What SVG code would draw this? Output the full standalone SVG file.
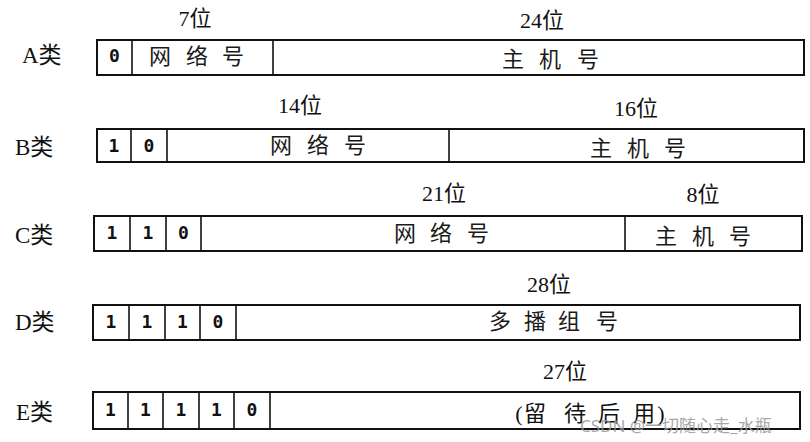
<svg xmlns="http://www.w3.org/2000/svg" width="810" height="442" viewBox="0 0 810 442">
<style>
  .box { fill: #fff; stroke: #111; stroke-width: 2; }
  .div { stroke: #111; stroke-width: 1.6; }
  .lbl { font-family: "Liberation Serif", "Noto Sans CJK SC", serif; font-size: 23px; fill: #111; }
  .bits { font-family: "Liberation Serif", "Noto Sans CJK SC", serif; font-size: 22px; fill: #111; text-anchor: middle; }
  .cn { font-family: "Noto Sans CJK SC", sans-serif; font-size: 22px; font-weight: 400; fill: #1a1a1a; text-anchor: middle; }
  .dg { font-family: "DejaVu Sans Mono", monospace; font-size: 18px; font-weight: bold; fill: #111; text-anchor: middle; }
  .wm { font-family: "Noto Sans", "Noto Sans CJK SC", sans-serif; font-size: 17px; fill: #9a9a9a; opacity: 0.85; }
</style>

<g id="classA">
  <text class="lbl" x="22" y="63">A类</text>
  <text class="bits" x="195" y="26">7位</text>
  <text class="bits" x="542" y="28">24位</text>
  <rect class="box" x="97" y="40" width="707" height="35"/>
  <line class="div" x1="132" y1="40" x2="132" y2="75"/>
  <line class="div" x1="273" y1="40" x2="273" y2="75"/>
  <text class="dg" x="114.5" y="62">0</text>
  <text class="cn" x="160 197 233" y="64">网络号</text>
  <text class="cn" x="513 550 588" y="67">主机号</text>
</g>

<g id="classB">
  <text class="lbl" x="15" y="155">B类</text>
  <text class="bits" x="300" y="113">14位</text>
  <text class="bits" x="636" y="116">16位</text>
  <rect class="box" x="97" y="129" width="707" height="33"/>
  <line class="div" x1="131" y1="129" x2="131" y2="162"/>
  <line class="div" x1="167" y1="129" x2="167" y2="162"/>
  <line class="div" x1="449" y1="129" x2="449" y2="162"/>
  <text class="dg" x="114" y="152">1</text>
  <text class="dg" x="149" y="152">0</text>
  <text class="cn" x="281 318 355" y="153">网络号</text>
  <text class="cn" x="601 638 675" y="156">主机号</text>
</g>

<g id="classC">
  <text class="lbl" x="15" y="243">C类</text>
  <text class="bits" x="444" y="201">21位</text>
  <text class="bits" x="703" y="202">8位</text>
  <rect class="box" x="94" y="216" width="708" height="35"/>
  <line class="div" x1="130" y1="216" x2="130" y2="251"/>
  <line class="div" x1="166" y1="216" x2="166" y2="251"/>
  <line class="div" x1="201" y1="216" x2="201" y2="251"/>
  <line class="div" x1="625" y1="216" x2="625" y2="251"/>
  <text class="dg" x="112" y="239">1</text>
  <text class="dg" x="148" y="239">1</text>
  <text class="dg" x="183.5" y="239">0</text>
  <text class="cn" x="405 441 478" y="241">网络号</text>
  <text class="cn" x="666 703 740" y="244">主机号</text>
</g>

<g id="classD">
  <text class="lbl" x="15" y="330">D类</text>
  <text class="bits" x="549" y="292">28位</text>
  <rect class="box" x="93" y="305" width="707" height="35"/>
  <line class="div" x1="129" y1="305" x2="129" y2="340"/>
  <line class="div" x1="165" y1="305" x2="165" y2="340"/>
  <line class="div" x1="200" y1="305" x2="200" y2="340"/>
  <line class="div" x1="236" y1="305" x2="236" y2="340"/>
  <text class="dg" x="111" y="328">1</text>
  <text class="dg" x="147" y="328">1</text>
  <text class="dg" x="182.5" y="328">1</text>
  <text class="dg" x="218" y="328">0</text>
  <text class="cn" x="500 535 569 607" y="329">多播组号</text>
</g>

<g id="classE">
  <text class="lbl" x="16" y="420">E类</text>
  <text class="bits" x="565" y="379">27位</text>
  <rect class="box" x="93" y="392" width="707" height="37"/>
  <line class="div" x1="128" y1="392" x2="128" y2="429"/>
  <line class="div" x1="163" y1="392" x2="163" y2="429"/>
  <line class="div" x1="199" y1="392" x2="199" y2="429"/>
  <line class="div" x1="234" y1="392" x2="234" y2="429"/>
  <line class="div" x1="270" y1="392" x2="270" y2="429"/>
  <text class="dg" x="110.5" y="416">1</text>
  <text class="dg" x="145.5" y="416">1</text>
  <text class="dg" x="181" y="416">1</text>
  <text class="dg" x="216.5" y="416">1</text>
  <text class="dg" x="252" y="416">0</text>
  <text class="bits" x="519 535 575 609 644 661" y="421">(留待后用)</text>
</g>

<g id="connectors"></g>

<text class="wm" x="580" y="432">CSDN @一切随心走_水瓶</text>
</svg>
